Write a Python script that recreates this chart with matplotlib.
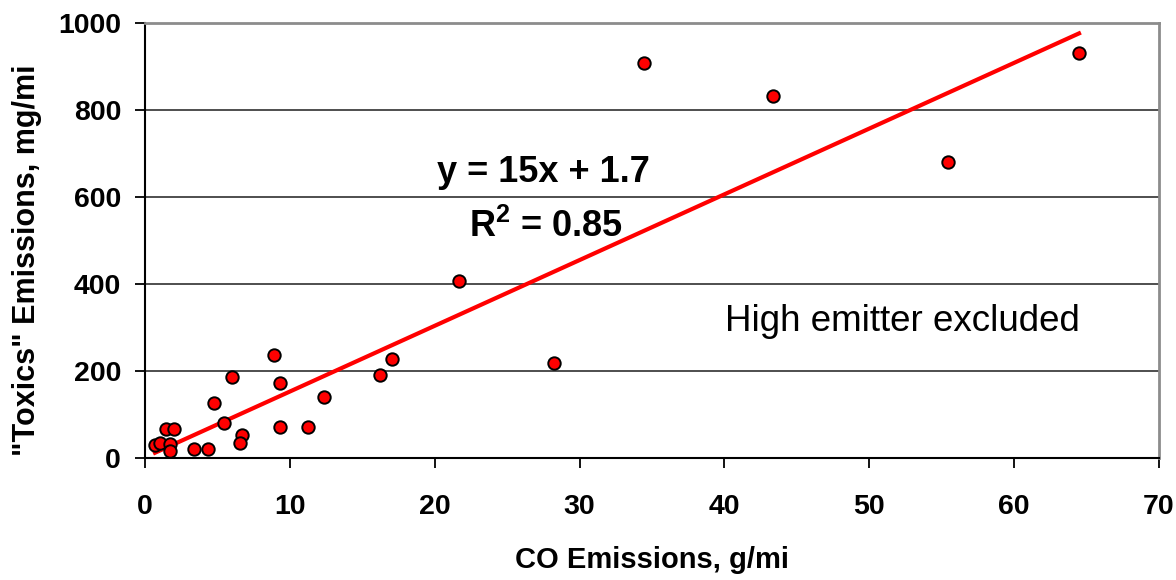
import numpy as np
import matplotlib
matplotlib.use('Agg')
import matplotlib.pyplot as plt

# CO vs "toxics" emissions (high emitter excluded)
co_g_mi = [0.69, 1.04, 1.45, 2.0, 1.73, 1.73, 3.38, 4.35, 4.78, 5.45,
           6.03, 6.72, 6.56, 8.88, 9.34, 9.34, 11.25, 12.36, 16.22, 17.07,
           21.68, 28.23, 34.45, 43.35, 55.43, 64.48]
toxics_mg_mi = [30, 35, 67, 67, 32, 17, 21, 21, 126, 80,
                186, 54, 34, 237, 173, 71, 71, 140, 191, 227,
                407, 218, 907, 832, 680, 930]

# linear trendline
fit_slope = 15.1
fit_intercept = 1.7
eq_text = 'y = 15x + 1.7'
r2_text = r'R$^{\mathbf{2}}$ = 0.85'

xticks = [0, 10, 20, 30, 40, 50, 60, 70]
yticks = [0, 200, 400, 600, 800, 1000]

plt.rcParams['font.family'] = ['Liberation Sans', 'DejaVu Sans']
plt.rcParams['mathtext.fontset'] = 'custom'
plt.rcParams['mathtext.rm'] = 'Liberation Sans:bold'
plt.rcParams['mathtext.bf'] = 'Liberation Sans:bold'

fig = plt.figure(figsize=(11.76, 5.8), dpi=100)
ax = fig.add_axes([0.1233, 0.2103, 0.8622, 0.7506])

x = np.array(co_g_mi)
y = np.array(toxics_mg_mi)

ax.scatter(x, y, s=80, c='#ff0000', edgecolors='black', linewidths=1.4, zorder=4)

xf = np.array([x.min(), x.max()])
ax.plot(xf, fit_slope * xf + fit_intercept, color='#ff0000', lw=3, zorder=3)

ax.set_xlim(0, 70)
ax.set_ylim(0, 1000)
ax.set_xticks(xticks)
ax.set_yticks(yticks)
ax.yaxis.grid(True, color='#404040', lw=1.3)
ax.set_axisbelow(True)

for side in ['left', 'bottom']:
    ax.spines[side].set_color('black')
    ax.spines[side].set_linewidth(1.5)
for side in ['top', 'right']:
    ax.spines[side].set_color('#8c8c8c')
    ax.spines[side].set_linewidth(2)

ax.tick_params(axis='both', direction='out', length=7.2, width=1.3, color='black',
               labelsize=20.5)
ax.tick_params(axis='x', pad=19)
ax.tick_params(axis='y', pad=10)
for lab in ax.get_xticklabels() + ax.get_yticklabels():
    lab.set_fontweight('bold')

ax.text(27.5, 657, eq_text, fontsize=26, fontweight='bold', ha='center', va='center')
ax.text(27.7, 531, r2_text, fontsize=26, fontweight='bold', ha='center', va='center')
ax.text(52.3, 314, 'High emitter excluded', fontsize=26.5, ha='center', va='center')

fig.text(652 / 1176, 1 - 560 / 580, 'CO Emissions, g/mi', fontsize=21,
         fontweight='bold', ha='center', va='center')
fig.text(27 / 1176, 1 - 260 / 580, '"Toxics" Emissions, mg/mi', fontsize=22,
         fontweight='bold', ha='center', va='center', rotation=90)

fig.savefig('out.png', dpi=100, facecolor='white')
